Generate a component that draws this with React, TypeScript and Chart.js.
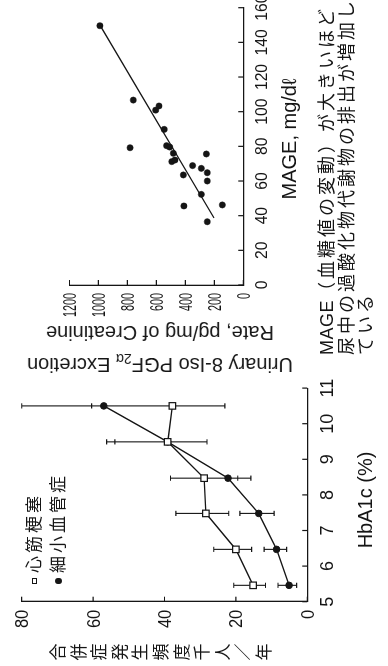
import React, { useEffect, useRef } from "react";
import { Chart, registerables } from "chart.js";

Chart.register(...registerables);

// ---------- Left chart: HbA1c vs complication rate ----------
const hba1cLevels = [5.46, 6.47, 7.48, 8.47, 9.49, 10.5];
const miRate = [15.2, 20.0, 28.4, 28.9, 39.1, 37.8];
const miLow = [11.7, 15.6, 22.0, 19.5, 28.1, 23.1];
const miHigh = [20.6, 26.2, 36.8, 38.3, 53.9, 60.4];
const microRate = [5.1, 8.6, 13.6, 22.2, 39.1, 57.0];
const microLow = [3.0, 5.8, 9.3, 15.8, 39.1, 57.0];
const microHigh = [8.2, 12.1, 18.9, 28.5, 56.2, 80.0];
const hba1cTicks = [5, 6, 7, 8, 9, 10, 11];
const rateTicks = [0, 20, 40, 60, 80];
const legendLabels = ["心筋梗塞", "細小血管症"];
const leftYTitle = "合併症発生頻度千人／年";
const leftXTitle = "HbA1c (%)";

// ---------- Right chart: MAGE vs urinary 8-iso PGF2a ----------
const mageValues = [149.6, 106.7, 100.9, 103.3, 79.2, 89.8, 80.4, 79.6, 76.0, 71.2, 72.1, 63.5, 68.9, 45.6, 75.6, 67.3, 64.8, 60.0, 52.3, 46.2, 36.5];
const excretionValues = [990, 760, 605, 582, 782, 546, 530, 508, 483, 494, 472, 414, 350, 410, 255, 290, 249, 249, 290, 145, 249];
const regressionMage = [38.7, 150];
const regressionExcretion = [202, 990];
const mageTicks = [0, 20, 40, 60, 80, 100, 120, 140, 160];
const excretionTicks = [0, 200, 400, 600, 800, 1000, 1200];
const rightXTitle = "MAGE, mg/d";
const rightYTitle1a = "Urinary 8-Iso PGF";
const rightYTitleSub = "2α";
const rightYTitle1b = " Excretion";
const rightYTitle2 = "Rate, pg/mg of Creatinine";
const captionLine1Latin = "MAGE";
const captionLine1 = "（血糖値の変動）が大きいほど";
const captionLine2 = "尿中の過酸化物代謝物の排出が増加し";
const captionLine3 = "ている";

const INK = "#151515";
const FONT = '"Liberation Sans", Arial, "Noto Sans CJK JP", sans-serif';

type DecorOpts = {
  xTicks: number[];
  yTicks: number[];
  xFont: number;
  yFont: number;
  xSx: number;
  ySx: number;
  xBase: number;
  yPad: number;
  tick: number;
};

function decorPlugin(o: DecorOpts) {
  return {
    id: "decor",
    afterDraw(chart: any) {
      const { ctx, chartArea: a } = chart;
      const xs = chart.scales.x;
      const ys = chart.scales.y;
      ctx.save();
      ctx.strokeStyle = INK;
      ctx.lineWidth = 1.2;
      ctx.beginPath();
      for (const v of o.xTicks) {
        const p = xs.getPixelForValue(v);
        ctx.moveTo(p, a.bottom);
        ctx.lineTo(p, a.bottom - o.tick);
      }
      for (const v of o.yTicks) {
        const p = ys.getPixelForValue(v);
        ctx.moveTo(a.left, p);
        ctx.lineTo(a.left + o.tick, p);
      }
      ctx.stroke();
      ctx.fillStyle = INK;
      ctx.textBaseline = "alphabetic";
      ctx.font = `${o.xFont}px ${FONT}`;
      ctx.textAlign = "center";
      for (const v of o.xTicks) {
        const p = xs.getPixelForValue(v);
        ctx.save();
        ctx.translate(p, a.bottom + o.xBase);
        ctx.scale(o.xSx, 1);
        ctx.fillText(String(v), 0, 0);
        ctx.restore();
      }
      ctx.font = `${o.yFont}px ${FONT}`;
      ctx.textAlign = "right";
      for (const v of o.yTicks) {
        const p = ys.getPixelForValue(v);
        ctx.save();
        ctx.translate(a.left - o.yPad, p + o.yFont * 0.358);
        ctx.scale(o.ySx, 1);
        ctx.fillText(String(v), 0, 0);
        ctx.restore();
      }
      ctx.restore();
    },
  };
}

const errorBarPlugin = {
  id: "errorBars",
  beforeDatasetsDraw(chart: any) {
    const { ctx } = chart;
    const xs = chart.scales.x;
    const ys = chart.scales.y;
    const sets = [
      [miLow, miHigh],
      [microLow, microHigh],
    ];
    ctx.save();
    ctx.strokeStyle = INK;
    ctx.lineWidth = 1.1;
    ctx.beginPath();
    sets.forEach(([lo, hi]) => {
      hba1cLevels.forEach((h, i) => {
        const x = xs.getPixelForValue(h);
        const y1 = ys.getPixelForValue(lo[i]);
        const y2 = ys.getPixelForValue(hi[i]);
        ctx.moveTo(x, y1);
        ctx.lineTo(x, y2);
        ctx.moveTo(x - 2.6, y1);
        ctx.lineTo(x + 2.6, y1);
        ctx.moveTo(x - 2.6, y2);
        ctx.lineTo(x + 2.6, y2);
      });
    });
    ctx.stroke();
    ctx.restore();
  },
};

const hideX = (s: any) => {
  s.height = 0;
};
const hideY = (s: any) => {
  s.width = 0;
};

export default function App() {
  const leftRef = useRef<HTMLCanvasElement>(null);
  const rightRef = useRef<HTMLCanvasElement>(null);

  useEffect(() => {
    const left = new Chart(leftRef.current as HTMLCanvasElement, {
      type: "line",
      data: {
        datasets: [
          {
            label: legendLabels[0],
            data: hba1cLevels.map((x, i) => ({ x, y: miRate[i] })),
            borderColor: INK,
            borderWidth: 1.4,
            pointStyle: "rect",
            pointRadius: 4.6,
            pointBackgroundColor: "#fff",
            pointBorderColor: INK,
            pointBorderWidth: 1.2,
            tension: 0,
            clip: false,
          } as any,
          {
            label: legendLabels[1],
            data: hba1cLevels.map((x, i) => ({ x, y: microRate[i] })),
            borderColor: INK,
            borderWidth: 1.4,
            pointStyle: "circle",
            pointRadius: 3.3,
            pointBackgroundColor: INK,
            pointBorderColor: INK,
            pointBorderWidth: 1,
            tension: 0,
            clip: false,
          } as any,
        ],
      },
      options: {
        animation: false,
        responsive: false,
        events: [],
        layout: { padding: { left: 64.3, right: 22.1, top: 21.7, bottom: 80.7 } },
        plugins: { legend: { display: false }, tooltip: { enabled: false } },
        scales: {
          x: {
            type: "linear",
            min: 5,
            max: 11,
            grid: { display: false },
            border: { display: true, color: INK, width: 1.3 },
            ticks: { display: false },
            afterFit: hideX,
          },
          y: {
            type: "linear",
            min: 0,
            max: 80,
            grid: { display: false },
            border: { display: true, color: INK, width: 1.3 },
            ticks: { display: false },
            afterFit: hideY,
          },
        },
      } as any,
      plugins: [
        errorBarPlugin,
        decorPlugin({
          xTicks: hba1cTicks,
          yTicks: rateTicks,
          xFont: 18,
          yFont: 18,
          xSx: 1,
          ySx: 0.92,
          xBase: 25.7,
          yPad: 8,
          tick: 5,
        }),
      ],
    });

    const right = new Chart(rightRef.current as HTMLCanvasElement, {
      type: "scatter",
      data: {
        datasets: [
          {
            label: "fit",
            data: regressionMage.map((x, i) => ({ x, y: regressionExcretion[i] })),
            showLine: true,
            borderColor: INK,
            borderWidth: 1.3,
            pointRadius: 0,
            clip: false,
          } as any,
          {
            label: "patients",
            data: mageValues.map((x, i) => ({ x, y: excretionValues[i] })),
            pointRadius: 3.1,
            pointBackgroundColor: INK,
            pointBorderColor: INK,
            pointBorderWidth: 0.5,
            clip: false,
          } as any,
        ],
      },
      options: {
        animation: false,
        responsive: false,
        events: [],
        layout: { padding: { left: 51, right: 51.7, top: 69.5, bottom: 144.7 } },
        plugins: { legend: { display: false }, tooltip: { enabled: false } },
        scales: {
          x: {
            type: "linear",
            min: 0,
            max: 160,
            grid: { display: false },
            border: { display: true, color: INK, width: 1.3 },
            ticks: { display: false },
            afterFit: hideX,
          },
          y: {
            type: "linear",
            min: 0,
            max: 1200,
            grid: { display: false },
            border: { display: true, color: INK, width: 1.3 },
            ticks: { display: false },
            afterFit: hideY,
          },
        },
      } as any,
      plugins: [
        decorPlugin({
          xTicks: mageTicks,
          yTicks: excretionTicks,
          xFont: 17,
          yFont: 18,
          xSx: 0.92,
          ySx: 0.6,
          xBase: 23.7,
          yPad: 8,
          tick: 5,
        }),
      ],
    });

    return () => {
      left.destroy();
      right.destroy();
    };
  }, []);

  const cjk: React.CSSProperties = { fontSize: 17, letterSpacing: 3 };

  return (
    <div
      style={{
        position: "fixed",
        left: 0,
        top: 0,
        width: 388,
        height: 666,
        overflow: "hidden",
        background: "#fff",
      }}
    >
      <div
        style={{
          position: "absolute",
          left: 0,
          top: 0,
          width: 720,
          height: 388,
          transformOrigin: "0 0",
          transform: "translateY(666px) rotate(-90deg)",
          fontFamily: FONT,
          color: INK,
        }}
      >
        <canvas
          ref={leftRef}
          width={300}
          height={388}
          style={{ position: "absolute", left: 0, top: 0, width: 300, height: 388 }}
        />
        <canvas
          ref={rightRef}
          width={380}
          height={388}
          style={{ position: "absolute", left: 330, top: 0, width: 380, height: 388 }}
        />

        {/* left y title, vertical upright characters */}
        <div
          style={{
            position: "absolute",
            left: 4,
            top: 49,
            width: 20,
            display: "flex",
            flexDirection: "column",
            alignItems: "center",
            fontSize: 17,
          }}
        >
          {Array.from(leftYTitle).map((ch, i) => (
            <div key={i} style={{ height: 20.6, lineHeight: "20.6px" }}>
              {ch}
            </div>
          ))}
        </div>

        {/* legend */}
        <div
          style={{
            position: "absolute",
            left: 82,
            top: 31.7,
            width: 5.5,
            height: 5.5,
            boxSizing: "border-box",
            border: `1.1px solid ${INK}`,
            background: "#fff",
          }}
        />
        <div
          style={{
            position: "absolute",
            left: 81.5,
            top: 55.3,
            width: 6.5,
            height: 6.5,
            borderRadius: "50%",
            background: INK,
          }}
        />
        <div style={{ position: "absolute", left: 93, top: 24, lineHeight: "21px", whiteSpace: "nowrap", ...cjk }}>
          {legendLabels[0]}
        </div>
        <div style={{ position: "absolute", left: 93, top: 48, lineHeight: "21px", whiteSpace: "nowrap", ...cjk }}>
          {legendLabels[1]}
        </div>

        {/* left x title */}
        <div
          style={{
            position: "absolute",
            left: 106,
            top: 354,
            width: 120,
            textAlign: "center",
            fontSize: 20,
            lineHeight: "22px",
            whiteSpace: "nowrap",
          }}
        >
          {leftXTitle}
        </div>

        {/* right y title (rotated) */}
        <div
          style={{
            position: "absolute",
            left: 164,
            top: 134,
            width: 300,
            height: 52,
            transform: "rotate(-90deg)",
            transformOrigin: "50% 50%",
            textAlign: "center",
            fontSize: 20,
            lineHeight: "26px",
            whiteSpace: "nowrap",
          }}
        >
          <div>
            {rightYTitle1a}
            <span style={{ fontSize: 14, verticalAlign: "-4px", fontStyle: "normal" }}>{rightYTitleSub}</span>
            {rightYTitle1b}
          </div>
          <div>{rightYTitle2}</div>
        </div>

        {/* right x title */}
        <div
          style={{
            position: "absolute",
            left: 457,
            top: 278,
            width: 140,
            textAlign: "center",
            fontSize: 20,
            lineHeight: "22px",
            whiteSpace: "nowrap",
          }}
        >
          {rightXTitle}
          <span>ℓ</span>
        </div>

        {/* caption */}
        <div
          style={{
            position: "absolute",
            left: 311,
            top: 318,
            fontSize: 18,
            lineHeight: "19.5px",
            whiteSpace: "nowrap",
            letterSpacing: 3,
          }}
        >
          <div>
            <span style={{ letterSpacing: 0.5 }}>{captionLine1Latin}</span>
            {captionLine1}
          </div>
          <div>{captionLine2}</div>
          <div>{captionLine3}</div>
        </div>
      </div>
    </div>
  );
}
